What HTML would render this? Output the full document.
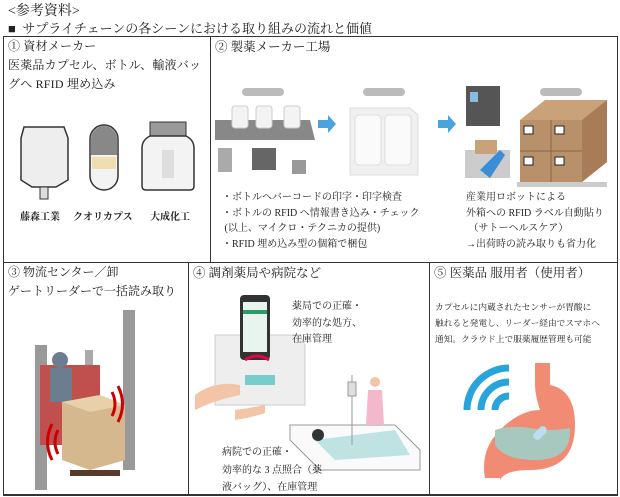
<!DOCTYPE html>
<html><head><meta charset="utf-8"><style>
body{margin:0;width:620px;height:496px;background:#fff;position:relative;overflow:hidden;font-family:"Liberation Serif","Noto Serif CJK SC",serif;color:#222}
.t{position:absolute;white-space:nowrap}
.ln{position:absolute;background:#333}
</style></head><body>
<div class="t" style="left:8px;top:0px;font-size:14px">&lt;参考資料&gt;</div>
<div class="t" style="left:8px;top:18px;font-size:13px">■&nbsp; サプライチェーンの各シーンにおける取り組みの流れと価値</div>
<div class="ln" style="left:3px;top:36px;width:615px;height:1px"></div>
<div class="ln" style="left:3px;top:262px;width:615px;height:1px"></div>
<div class="ln" style="left:3px;top:494px;width:615px;height:2px"></div>
<div class="ln" style="left:3px;top:36px;width:1px;height:459px"></div>
<div class="ln" style="left:617px;top:36px;width:1px;height:459px"></div>
<div class="ln" style="left:210px;top:36px;width:1px;height:226px"></div>
<div class="ln" style="left:188px;top:262px;width:1px;height:232px"></div>
<div class="ln" style="left:429px;top:262px;width:1px;height:232px"></div>

<div class="t" style="left:8px;top:37px;font-size:12px;line-height:19px;letter-spacing:0.2px">① 資材メーカー<br>医薬品カプセル、ボトル、輸液バッ<br>グへ RFID 埋め込み</div>
<div class="t" style="left:215px;top:37px;font-size:12.5px">② 製薬メーカー工場</div>
<div class="t" style="left:8px;top:263px;font-size:12px;line-height:19px">③ 物流センター／卸<br>ゲートリーダーで一括読み取り</div>
<div class="t" style="left:193px;top:263px;font-size:12.5px">④ 調剤薬局や病院など</div>
<div class="t" style="left:434px;top:263px;font-size:12.5px">⑤ 医薬品 服用者（使用者）</div>

<svg width="620" height="496" style="position:absolute;left:0;top:0">
<path d="M24 127 L64 127 L68 138 L68 180 L56 187 L32 187 L21 180 L21 138 Z" fill="#eee" stroke="#333" stroke-width="1.5"/>
<rect x="40" y="187" width="8" height="12" fill="#ddd" stroke="#333"/>
<rect x="90" y="125" width="28" height="65" rx="14" fill="#f3f3f3" stroke="#333" stroke-width="1.5"/>
<path d="M91 155 V139 a13 13 0 0 1 26 0 V155 Z" fill="#888"/>
<rect x="92" y="157" width="24" height="12" fill="#f0ddb0"/>
<rect x="150" y="122" width="36" height="14" fill="#999" stroke="#333"/>
<path d="M150 136 Q142 140 142 148 L142 186 Q142 190 146 190 L190 190 Q194 190 194 186 L194 148 Q194 140 186 136 Z" fill="#f3f3f3" stroke="#333" stroke-width="1.5"/>
<rect x="162" y="150" width="12" height="28" fill="#ddd"/>
<text x="20" y="220" font-size="10" font-weight="bold" fill="#222">藤森工業</text>
<text x="73" y="220" font-size="10" font-weight="bold" fill="#222">クオリカプス</text>
<text x="150" y="220" font-size="10" font-weight="bold" fill="#222">大成化工</text>
<rect x="242" y="88" width="42" height="8" rx="4" fill="#bbb"/>
<rect x="363" y="88" width="42" height="8" rx="4" fill="#bbb"/>
<rect x="540" y="88" width="42" height="8" rx="4" fill="#bbb"/>
<path d="M215 120 L310 120 L315 140 L215 140 Z" fill="#888"/>
<rect x="232" y="106" width="16" height="22" rx="3" fill="#f3f3f3" stroke="#ccc"/>
<rect x="256" y="106" width="16" height="22" rx="3" fill="#f3f3f3" stroke="#ccc"/>
<rect x="284" y="106" width="16" height="22" rx="3" fill="#f3f3f3" stroke="#ccc"/>
<rect x="218" y="148" width="14" height="24" fill="#aaa"/>
<rect x="252" y="148" width="24" height="22" fill="#666"/>
<rect x="292" y="160" width="14" height="14" fill="#999"/>
<path d="M318 120 h10 v-5 l8 9 l-8 9 v-5 h-10z" fill="#4aa3dc"/>
<path d="M438 120 h10 v-5 l8 9 l-8 9 v-5 h-10z" fill="#4aa3dc"/>
<path d="M350 108 L410 108 L418 115 L418 175 L350 175 Z" fill="#f0f0f0" stroke="#ddd"/>
<rect x="355" y="115" width="26" height="50" rx="4" fill="#fafafa" stroke="#ddd"/>
<rect x="385" y="115" width="26" height="50" rx="4" fill="#fafafa" stroke="#ddd"/>
<rect x="466" y="86" width="34" height="40" fill="#555"/>
<rect x="470" y="92" width="8" height="10" fill="#8bd"/>
<rect x="465" y="150" width="45" height="28" fill="#ccc"/>
<path d="M480 170 L500 150 L505 155 L490 178 Z" fill="#3a8ed8"/>
<rect x="475" y="140" width="22" height="14" fill="#c9a27a"/>
<path d="M520 120 L545 100 L607 100 L607 162 L582 182 L520 182 Z" fill="#c9a27a"/>
<path d="M520 120 L582 120 L582 182 L520 182 Z" fill="#b8906a"/>
<path d="M582 120 L607 100 L607 162 L582 182 Z" fill="#a87c56"/>
<line x1="551" y1="120" x2="551" y2="182" stroke="#8a6644"/>
<line x1="520" y1="151" x2="582" y2="151" stroke="#8a6644"/>
<rect x="524" y="126" width="9" height="8" fill="#fff" stroke="#222"/>
<rect x="555" y="126" width="9" height="8" fill="#fff" stroke="#222"/>
<rect x="524" y="157" width="9" height="8" fill="#fff" stroke="#222"/>
<rect x="555" y="157" width="9" height="8" fill="#fff" stroke="#222"/>
<rect x="517" y="182" width="90" height="5" fill="#ccc"/>
<rect x="35" y="345" width="12" height="145" fill="#999"/>
<rect x="123" y="310" width="12" height="160" fill="#999"/>
<rect x="85" y="350" width="8" height="60" fill="#aaa"/>
<rect x="40" y="365" width="60" height="80" fill="#c0504d"/>
<circle cx="60" cy="360" r="8" fill="#6d7d90"/>
<rect x="50" y="368" width="22" height="34" fill="#6d7d90"/>
<path d="M62 402 L100 395 L125 405 L125 460 L90 470 L62 460 Z" fill="#d6b88f"/>
<path d="M62 402 L100 395 L125 405 L90 412 Z" fill="#e7d0aa"/>
<rect x="70" y="470" width="50" height="6" fill="#5a3a2a"/>
<path d="M112 392 q6 12 0 24 M118 386 q9 18 0 36" stroke="#c00" stroke-width="3" fill="none"/>
<path d="M58 430 q-6 12 0 24 M52 424 q-9 18 0 36" stroke="#c00" stroke-width="3" fill="none"/>
<path d="M215 335 L300 335 L305 345 L305 405 L215 405 Z" fill="#eee" stroke="#ccc"/>
<rect x="240" y="295" width="30" height="65" rx="4" fill="#333"/>
<rect x="243" y="302" width="24" height="50" fill="#e8f5ee"/>
<rect x="243" y="310" width="24" height="4" fill="#2a9a6a"/>
<path d="M195 395 Q215 380 240 385 L240 395 Q215 400 195 410 Z" fill="#f4c4a8"/>
<path d="M235 410 Q250 408 265 405 L265 413 Q250 418 235 420Z" fill="#f4c4a8"/>
<rect x="245" y="375" width="30" height="10" fill="#7cc"/>
<path d="M245 360 q12 -8 24 0" stroke="#e04" stroke-width="3" fill="none"/>
<path d="M290 425 L395 425 L420 450 L420 470 L320 470 L290 440 Z" fill="#fafafa" stroke="#999"/>
<path d="M315 440 L395 430 L410 455 L335 460 Z" fill="#bfe3e3"/>
<circle cx="318" cy="435" r="6" fill="#333"/>
<line x1="352" y1="375" x2="352" y2="445" stroke="#999"/>
<rect x="348" y="382" width="8" height="14" fill="#ddd" stroke="#999"/>
<circle cx="375" cy="382" r="5" fill="#f4c4a8"/>
<path d="M368 390 L382 390 L384 425 L366 425 Z" fill="#f4b8cc"/>
<g fill="none" stroke="#29a3dc" stroke-width="7">
<path d="M467 410 a42 42 0 0 1 42 -42"/>
<path d="M481 410 a28 28 0 0 1 28 -28"/>
<path d="M495 410 a14 14 0 0 1 14 -14"/>
</g>
<path d="M535 363 L550 363 L550 385 Q575 390 575 425 Q575 470 530 470 Q505 470 500 480 L500 478 L485 478 Q480 450 500 430 Q520 410 540 410 Q535 395 535 385 Z" fill="#f28b74"/>
<path d="M495 430 Q510 425 530 428 Q550 432 570 428 Q572 460 535 460 Q505 460 495 445 Z" fill="#a7c8be"/>
<rect x="536" y="425" width="8" height="16" rx="4" fill="#bde" transform="rotate(45 540 433)"/>
</svg>

<div class="t" style="left:222px;top:190px;font-size:10px;line-height:15.7px">・ボトルへバーコードの印字・印字検査<br>・ボトルの RFID へ情報書き込み・チェック<br>&nbsp;(以上、マイクロ・テクニカの提供)<br>・RFID 埋め込み型の個箱で梱包</div>
<div class="t" style="left:466px;top:190px;font-size:10px;line-height:15.7px">産業用ロボットによる<br>外箱への RFID ラベル自動貼り<br>&nbsp;（サトーヘルスケア）<br>→出荷時の読み取りも省力化</div>
<div class="t" style="left:292px;top:299px;font-size:10px;line-height:16.5px">薬局での正確・<br>効率的な処方、<br>在庫管理</div>
<div class="t" style="left:222px;top:444px;font-size:10px;line-height:17.5px">病院での正確・<br>効率的な 3 点照合（薬<br>液バッグ）、在庫管理</div>
<div class="t" style="left:435px;top:299px;font-size:8.7px;line-height:16px">カプセルに内蔵されたセンサーが胃酸に<br>触れると発電し、リーダー経由でスマホへ<br>通知。クラウド上で服薬履歴管理も可能</div>
</body></html>
